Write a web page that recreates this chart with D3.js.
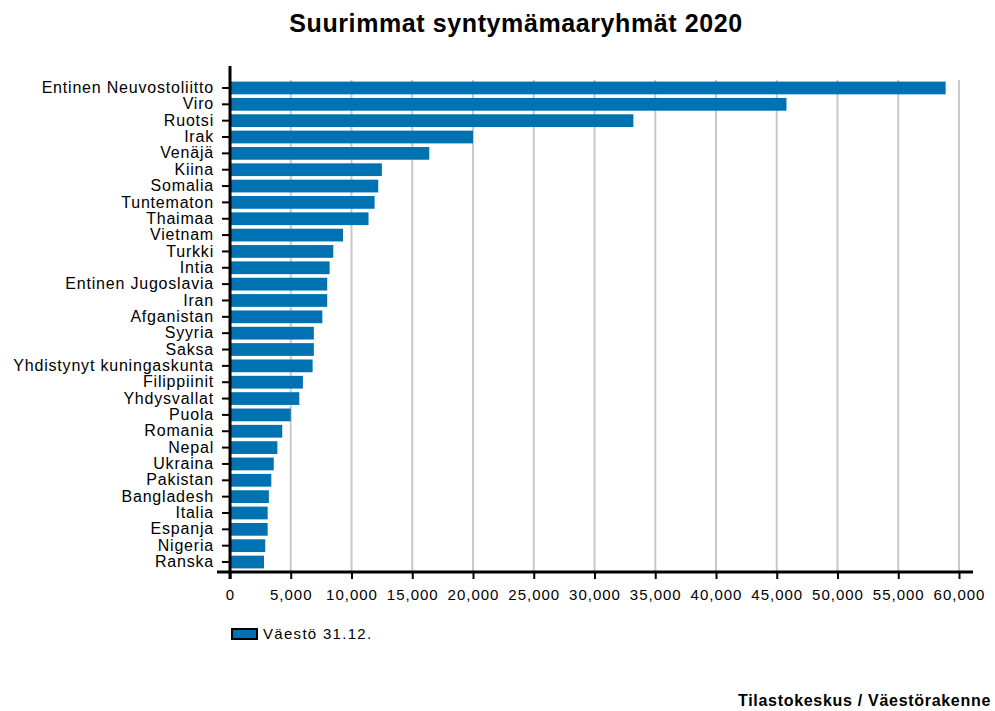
<!DOCTYPE html>
<html><head><meta charset="utf-8">
<script src="https://cdn.jsdelivr.net/npm/d3@7"></script>
<style>
html,body{margin:0;padding:0;background:#fff;}
text{font-family:"Liberation Sans",Arial,sans-serif;}
</style></head>
<body>
<svg id="chart" width="995" height="711"></svg>
<script>
const categories = ["Entinen Neuvostoliitto","Viro","Ruotsi","Irak","Venäjä","Kiina","Somalia","Tuntematon","Thaimaa","Vietnam","Turkki","Intia","Entinen Jugoslavia","Iran","Afganistan","Syyria","Saksa","Yhdistynyt kuningaskunta","Filippiinit","Yhdysvallat","Puola","Romania","Nepal","Ukraina","Pakistan","Bangladesh","Italia","Espanja","Nigeria","Ranska"];
const values = [58900,45800,33200,20000,16400,12500,12200,11900,11400,9300,8500,8200,8000,8000,7600,6900,6900,6800,6000,5700,5000,4300,3900,3600,3400,3200,3100,3100,2900,2800];
const xTicks = [0,5000,10000,15000,20000,25000,30000,35000,40000,45000,50000,55000,60000];
const seriesName = "Väestö 31.12.";
const title = "Suurimmat syntymämaaryhmät 2020";
const source = "Tilastokeskus / Väestörakenne";

const svg = d3.select("#chart");
const x = d3.scaleLinear().domain([0,60000]).range([230,959]);
const y = d3.scaleBand().domain(categories).range([78,572]).padding(0.22);
const axisY = 572;
const blue = "#0072b2";

// title
svg.append("text").attr("x",516).attr("y",32).attr("text-anchor","middle")
  .style("font-size","25px").style("font-weight","bold").style("letter-spacing","0.6px")
  .attr("fill","#000").text(title);

// gridlines
svg.append("g").selectAll("line").data(xTicks.filter(d=>d>0)).join("line")
  .attr("x1",d=>x(d)).attr("x2",d=>x(d)).attr("y1",80).attr("y2",axisY)
  .attr("stroke","#c8c8c8").attr("stroke-width",2);

// bars
svg.append("g").selectAll("rect").data(categories).join("rect")
  .attr("x",x(0)).attr("y",d=>y(d))
  .attr("width",(d,i)=>x(values[i])-x(0)).attr("height",y.bandwidth())
  .attr("fill",blue);

// y axis
const gy = svg.append("g").attr("transform",`translate(${x(0)},0)`)
  .call(d3.axisLeft(y).tickSize(8).tickPadding(8));
gy.select(".domain").remove();
gy.selectAll(".tick line").attr("stroke","#000").attr("stroke-width",2);
gy.selectAll(".tick text").style("font-size","16px").style("letter-spacing","0.8px").attr("fill","#000");
svg.append("line").attr("x1",x(0)).attr("x2",x(0)).attr("y1",66).attr("y2",579)
  .attr("stroke","#000").attr("stroke-width",3);

// x axis
const gx = svg.append("g").attr("transform",`translate(0,${axisY})`)
  .call(d3.axisBottom(x).tickValues(xTicks).tickSize(7).tickPadding(10).tickFormat(d3.format(",")));
gx.select(".domain").remove();
gx.selectAll(".tick line").attr("stroke","#000").attr("stroke-width",2);
gx.selectAll(".tick text").style("font-size","15px").style("letter-spacing","1px").attr("fill","#000");
svg.append("line").attr("x1",217).attr("x2",973).attr("y1",axisY).attr("y2",axisY)
  .attr("stroke","#000").attr("stroke-width",3);

// legend
svg.append("rect").attr("x",232).attr("y",629).attr("width",25).attr("height",10)
  .attr("fill",blue).attr("stroke","#000").attr("stroke-width",2);
svg.append("text").attr("x",263).attr("y",639).style("font-size","15px").style("letter-spacing","1.3px")
  .attr("fill","#000").text(seriesName);

// source
svg.append("text").attr("x",991).attr("y",706).attr("text-anchor","end")
  .style("font-size","16px").style("font-weight","bold").style("letter-spacing","0.7px")
  .attr("fill","#000").text(source);
</script>
</body></html>
